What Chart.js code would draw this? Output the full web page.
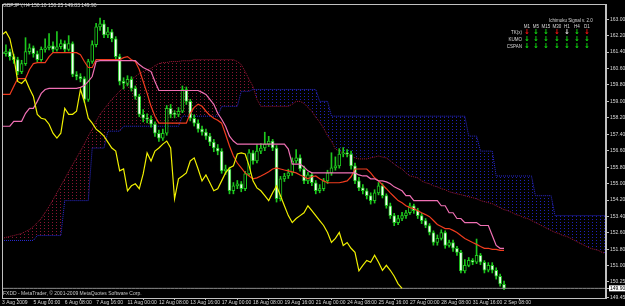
<!DOCTYPE html>
<html><head><meta charset="utf-8">
<script src="https://cdn.jsdelivr.net/npm/chart.js@4.4.1/dist/chart.umd.min.js"></script>
<style>
html,body{margin:0;padding:0;background:#000;}
#wrap{position:relative;width:625px;height:306px;overflow:hidden;background:#000;}
canvas{position:absolute;left:0;top:0;}
.t{position:absolute;font-family:"Liberation Sans",Arial,sans-serif;font-size:5px;line-height:5px;white-space:nowrap;color:#d8d8d8;}
.a{position:absolute;font-family:"DejaVu Sans",sans-serif;font-size:7px;font-weight:bold;line-height:7px;transform:translateX(-50%);}
.h{position:absolute;font-family:"Liberation Sans",Arial,sans-serif;font-size:4.5px;line-height:5px;color:#d8d8d8;transform:translateX(-50%);white-space:nowrap;}
.r{position:absolute;font-family:"Liberation Sans",Arial,sans-serif;font-size:4.5px;line-height:5px;color:#d8d8d8;transform:translateX(-100%);white-space:nowrap;}
</style></head><body>
<div id="wrap"><canvas id="c" width="625" height="306"></canvas>
<div class="t" style="left:3px;top:3px">GBPJPY,H4  150.10 150.25 149.83 149.90</div>
<div class="t" style="left:3px;top:291px;color:#c8c8c8">FXDD - MetaTrader, © 2001-2009 MetaQuotes Software Corp.</div>
<div class="t" style="left:549px;top:18px;font-size:4.5px">Ichimoku Signal v. 2.0</div>
<div id="panel"></div>
</div>
<script>
// ---------- data ----------
const tickLabels = ['3 Aug 2009','5 Aug 00:00','6 Aug 08:00','7 Aug 16:00','11 Aug 00:00','12 Aug 08:00','13 Aug 16:00','17 Aug 00:00','18 Aug 08:00','19 Aug 16:00','21 Aug 00:00','24 Aug 08:00','25 Aug 16:00','27 Aug 00:00','28 Aug 08:00','31 Aug 16:00','2 Sep 08:00'];
const yTickValues = [163.00,162.20,161.40,160.60,159.80,159.00,158.20,157.40,156.60,155.80,155.00,154.20,153.40,152.60,151.80,151.00,150.25,149.90,149.45];
const bidPrice = 149.90;

const openP = [161.40,161.32,161.42,161.18,161.03,160.45,160.84,161.42,161.61,161.32,161.03,161.53,161.61,161.71,161.53,161.66,161.81,161.53,161.81,160.31,160.21,160.11,159.10,160.94,161.76,162.63,162.77,162.24,162.39,162.05,161.18,159.97,159.87,160.07,159.63,159.24,158.37,158.18,158.13,157.89,157.45,157.21,157.45,158.66,158.37,158.37,158.52,159.58,159.00,158.18,157.94,157.65,157.50,157.31,157.02,156.73,156.58,155.62,155.71,154.65,154.89,154.99,154.75,155.47,156.49,156.10,156.58,156.73,156.92,157.07,156.73,154.26,155.23,155.37,155.52,156.10,156.25,155.71,155.13,155.42,155.04,154.65,154.75,155.13,155.52,155.76,155.86,156.44,156.49,156.44,155.86,155.13,154.79,154.65,154.41,154.17,154.55,154.89,154.41,153.92,153.44,153.10,153.30,153.44,153.58,153.92,153.68,153.44,153.20,152.96,152.62,152.13,152.33,152.62,151.99,152.13,151.85,151.65,150.75,151.02,151.26,151.17,151.51,151.17,150.78,151.02,150.78,150.49,150.10];
const highP = [161.60,161.75,161.55,161.30,161.15,161.00,162.10,161.80,161.70,161.45,161.65,162.05,162.30,161.90,162.40,162.00,161.95,162.20,161.90,160.45,160.35,160.20,161.05,161.95,162.80,163.05,162.95,162.60,162.50,162.15,161.30,160.15,160.25,160.20,159.75,159.35,158.60,158.40,158.30,158.00,157.60,157.65,158.80,158.85,158.55,158.70,159.75,159.70,159.10,158.35,158.10,157.80,157.65,157.45,157.15,156.90,156.70,155.90,155.80,155.05,155.15,155.10,155.60,156.65,156.60,156.90,156.95,157.50,157.30,157.15,156.85,155.35,155.50,155.70,156.25,156.65,156.40,155.85,155.55,155.55,155.15,154.95,155.25,155.65,156.50,156.30,156.70,156.75,156.65,156.58,156.00,155.30,154.95,154.75,154.55,154.70,155.05,155.00,154.50,154.05,153.55,153.45,153.60,153.70,154.05,154.00,153.80,153.55,153.30,153.05,152.70,152.50,152.75,152.70,152.25,152.25,151.95,151.75,151.30,151.40,151.35,152.30,151.60,151.25,151.15,151.15,150.90,150.60,150.25];
const lowP = [161.10,161.20,161.00,160.85,160.30,160.35,160.75,161.30,161.15,160.90,160.95,161.40,161.50,161.40,161.45,161.55,161.40,161.45,160.20,160.05,159.95,158.95,159.00,160.85,161.65,162.45,162.10,162.10,161.90,161.05,159.80,159.60,159.75,159.50,159.10,158.25,158.00,157.95,157.75,157.30,157.05,157.10,157.35,158.20,158.20,158.25,158.45,158.85,158.05,157.80,157.50,157.35,157.15,156.85,156.55,156.40,155.50,155.45,154.50,154.50,154.75,154.60,154.65,155.40,155.95,156.00,156.45,156.60,156.80,156.60,154.10,154.15,155.10,155.25,155.40,156.00,155.60,155.00,155.00,154.90,154.50,154.55,154.65,155.00,155.40,155.65,155.75,156.30,156.30,155.70,155.00,154.65,154.50,154.25,154.00,154.05,154.45,154.30,153.80,153.30,152.95,153.00,153.20,153.30,153.50,153.55,153.30,153.05,152.85,152.50,152.00,152.00,152.25,151.85,151.90,151.70,151.50,150.65,150.65,150.95,151.05,151.10,151.05,150.65,150.70,150.65,150.35,150.00,149.83];
const closeP = [161.32,161.42,161.18,161.03,160.45,160.84,161.42,161.61,161.32,161.03,161.53,161.61,161.71,161.53,161.66,161.81,161.53,161.81,160.31,160.21,160.11,159.10,160.94,161.76,162.63,162.77,162.24,162.39,162.05,161.18,159.97,159.87,160.07,159.63,159.24,158.37,158.18,158.13,157.89,157.45,157.21,157.45,158.66,158.37,158.37,158.52,159.58,159.00,158.18,157.94,157.65,157.50,157.31,157.02,156.73,156.58,155.62,155.71,154.65,154.89,154.99,154.75,155.47,156.49,156.10,156.58,156.73,156.92,157.07,156.73,154.26,155.23,155.37,155.52,156.10,156.25,155.71,155.13,155.42,155.04,154.65,154.75,155.13,155.52,155.76,155.86,156.44,156.49,156.44,155.86,155.13,154.79,154.65,154.41,154.17,154.55,154.89,154.41,153.92,153.44,153.10,153.30,153.44,153.58,153.92,153.68,153.44,153.20,152.96,152.62,152.13,152.33,152.62,151.99,152.13,151.85,151.65,150.75,151.02,151.26,151.17,151.51,151.17,150.78,151.02,150.78,150.49,150.12,149.90];

const tenkan = [159.34,159.34,159.34,159.73,160.11,160.11,160.11,160.55,160.84,160.89,160.89,160.89,161.18,161.37,161.37,161.37,161.37,161.37,161.37,161.37,161.27,160.94,160.65,160.65,161.03,161.03,161.03,161.03,161.03,161.03,161.03,161.13,161.18,161.03,160.94,160.55,159.97,159.39,158.76,158.28,157.94,157.94,157.94,157.94,157.94,157.94,157.94,157.94,158.42,158.71,158.86,158.76,158.52,158.32,158.18,158.08,157.94,157.40,156.83,156.34,156.00,155.76,155.52,155.37,155.23,155.28,155.37,155.47,155.57,155.71,155.76,155.71,155.66,155.62,155.57,155.52,155.42,155.33,155.23,155.33,155.37,155.23,155.13,155.04,155.04,155.04,155.04,155.08,155.13,155.33,155.71,155.71,155.71,155.71,155.52,155.28,155.13,154.94,154.75,154.55,154.36,154.17,154.07,153.92,153.83,153.78,153.68,153.58,153.49,153.39,153.20,153.01,152.91,152.81,152.81,152.72,152.62,152.47,152.33,152.23,152.13,152.04,151.94,151.85,151.85,151.80,151.80,151.75,151.75];
const kijun = [157.79,157.79,157.79,158.03,158.03,158.03,158.42,158.66,158.66,159.00,159.39,159.58,159.63,159.63,159.63,159.63,159.63,159.63,159.63,159.63,159.68,159.77,159.97,160.21,160.94,160.98,160.98,160.98,160.98,160.98,160.98,160.98,160.98,160.98,160.98,160.79,160.65,160.55,160.45,159.97,159.53,159.53,159.53,159.53,159.53,159.53,159.53,159.53,159.53,159.53,159.53,159.44,159.34,159.10,158.86,158.42,158.13,157.79,157.31,157.07,156.92,156.92,156.92,156.92,156.92,156.92,156.92,156.92,156.92,156.92,156.92,156.92,156.92,156.68,155.95,155.95,155.95,155.81,155.62,155.52,155.52,155.52,155.52,155.52,155.52,155.52,155.52,155.52,155.52,155.52,155.52,155.42,155.37,155.37,155.23,155.23,155.13,155.13,155.08,154.99,154.84,154.75,154.65,154.41,154.41,154.17,154.17,154.17,154.17,154.17,154.17,154.17,153.92,153.92,153.58,153.58,153.30,153.30,153.10,153.10,153.10,153.10,152.96,152.96,152.96,152.47,151.99,151.85,151.85];
const spanA = [152.33,152.38,152.43,152.47,152.52,152.57,152.67,152.76,152.91,153.10,153.30,153.59,153.88,154.21,154.55,154.89,155.23,155.57,155.91,156.25,156.58,156.92,157.31,157.65,158.03,158.37,158.61,158.86,159.10,159.29,159.49,159.68,159.87,160.07,160.21,160.35,160.45,160.55,160.60,160.74,160.84,160.89,160.89,160.94,160.94,160.94,160.98,160.98,160.98,161.03,161.03,161.03,161.03,161.03,161.03,161.03,161.03,161.03,161.03,161.03,160.94,160.79,160.45,160.07,159.73,159.10,158.76,158.76,158.76,158.76,158.76,158.76,158.76,158.76,158.86,159.00,159.00,158.90,158.71,158.52,158.23,157.99,157.70,157.33,157.07,156.68,156.58,156.49,156.39,156.34,156.25,156.20,156.20,156.20,156.25,156.29,156.34,156.29,156.25,156.10,155.95,155.81,155.71,155.52,155.37,155.33,155.28,155.13,155.04,154.99,154.89,154.84,154.75,154.70,154.60,154.55,154.50,154.46,154.41,154.36,154.31,154.26,154.17,154.12,154.07,154.02,153.92,153.83,153.73,153.68,153.59,153.49,153.44,153.34,153.30,153.20,153.10,153.01,152.91,152.81,152.72,152.62,152.57,152.47,152.43,152.33,152.23,152.13,152.04,151.94,151.85,151.80,151.75,151.65,151.60];
const spanB = [152.23,152.23,152.23,152.23,152.23,152.23,152.23,152.23,152.23,152.47,152.47,152.47,152.47,152.47,152.47,152.47,154.17,154.17,154.17,154.17,154.17,154.17,154.17,156.73,156.73,156.73,156.73,157.55,157.55,157.55,157.55,157.79,157.79,157.79,157.79,157.79,157.79,157.79,157.79,157.79,157.79,157.79,157.79,157.79,157.79,157.79,158.28,158.28,158.28,158.28,158.28,158.28,158.28,158.28,158.28,158.28,158.76,158.76,158.76,158.76,158.76,159.49,159.49,159.49,159.58,159.58,159.58,159.58,159.58,159.58,159.58,159.58,159.58,159.58,159.58,159.58,159.58,159.58,159.58,159.58,159.58,159.00,159.00,159.00,158.28,158.28,158.28,158.28,158.28,158.28,158.28,158.28,158.28,158.28,158.28,158.28,158.28,158.28,158.28,158.28,158.28,158.28,158.28,158.28,158.28,158.28,158.28,158.28,158.28,158.28,158.28,158.28,158.28,158.28,158.28,158.28,158.28,158.28,158.28,157.31,157.31,157.31,156.58,156.58,156.58,156.58,155.37,155.37,155.37,155.37,155.37,155.37,155.37,155.37,155.37,155.37,154.41,154.41,154.41,154.41,154.41,153.44,153.44,153.44,153.44,153.44,153.44,153.44,153.44,153.44,153.44,153.44,153.44,153.44,153.44];
const chikouShift = 26;

// ---------- panel (text) ----------
const panelCols = ['M1','M5','M15','M30','H1','H4','D1'];
const panelColX = [527,536,546,557,567,577,587];
const panelRows = ['TK(x)','KUMO','CSPAN'];
const panelRowY = [32,39,46];
const panelColors = [
  ['#ff1010','#10e010','#10e010','#ff1010','#e0e0e0','#10e010','#ff1010'],
  ['#10e010','#10e010','#10e010','#10e010','#10e010','#10e010','#10e010'],
  ['#10e010','#10e010','#10e010','#10e010','#10e010','#10e010','#10e010']
];
(function(){
  const p = document.getElementById('panel');
  let html = '';
  panelCols.forEach((c,i)=>{ html += `<div class="h" style="left:${panelColX[i]}px;top:24px">${c}</div>`; });
  panelRows.forEach((r,j)=>{
    html += `<div class="r" style="left:522px;top:${panelRowY[j]-2.5}px">${r}</div>`;
    panelColX.forEach((x,i)=>{ html += `<div class="a" style="left:${x}px;top:${panelRowY[j]-3.5}px;color:${panelColors[j][i]}">↓</div>`; });
  });
  p.innerHTML = html;
})();

// ---------- chart ----------
const N = spanA.length;
const labels = spanA.map((_, i) => i);
const pad = arr => arr.concat(new Array(N - arr.length).fill(null));
function dotPattern(color){
  const c = document.createElement('canvas'); c.width = 4; c.height = 3;
  const g = c.getContext('2d'); g.fillStyle = color; g.fillRect(0,0,1,1);
  return g.createPattern(c,'repeat');
}
const ctx0 = document.getElementById('c').getContext('2d');
const redPat = dotPattern('#8a1434');
const bluePat = dotPattern('#2020b8');
const candleGreen = '#1ec81e';

const frame = {
  id:'frame',
  afterDraw(chart){
    const {ctx, chartArea:a} = chart;
    ctx.save(); ctx.strokeStyle = '#c0c0c0'; ctx.lineWidth = 1;
    ctx.strokeRect(a.left + 0.5, a.top + 0.5, a.right - a.left - 1, a.bottom - a.top);
    ctx.restore();
  }
};

new Chart(ctx0, {
  type:'bar',
  data:{
    labels,
    datasets:[
      {type:'line', label:'Senkou Span A', data: spanA, borderColor:'#a01838', borderWidth:1, borderDash:[1,1], pointRadius:0, tension:0,
        fill:{target:1, above: redPat, below: bluePat}, order:10},
      {type:'line', label:'Senkou Span B', data: spanB, borderColor:'#2a2ad0', borderWidth:1, borderDash:[1,1], pointRadius:0, tension:0, fill:false, order:9},
      {type:'bar', label:'Wick', data: pad(highP.map((h,i)=>[lowP[i], h])), backgroundColor: candleGreen, barThickness:1, grouped:false, order:6},
      {type:'bar', label:'Body', data: pad(openP.map((o,i)=>[o, closeP[i]])),
        backgroundColor: c => (c.raw && c.raw[1] > c.raw[0]) ? '#000000' : '#f4fff4',
        borderColor: candleGreen, borderWidth:1, borderSkipped:false, barThickness:3, grouped:false, minBarLength:1, order:5},
      {type:'line', label:'Bid', data: new Array(N).fill(bidPrice), borderColor:'#8c8c8c', borderWidth:1, pointRadius:0, order:4},
      {type:'line', label:'Tenkan-sen', data: pad(tenkan), borderColor:'#f03c1e', borderWidth:1.2, pointRadius:0, tension:0, order:3},
      {type:'line', label:'Kijun-sen', data: pad(kijun), borderColor:'#f070b4', borderWidth:1.2, pointRadius:0, tension:0, order:2},
      {type:'line', label:'Chikou Span', data: pad(closeP.slice(chikouShift)), borderColor:'#f0f000', borderWidth:1.2, pointRadius:0, tension:0, order:1}
    ]
  },
  options:{
    responsive:false, animation:false, devicePixelRatio:1,
    layout:{padding:{left:2, top:2, right:0, bottom:0}},
    plugins:{legend:{display:false}, tooltip:{enabled:false}},
    scales:{
      x:{type:'category', offset:false,
        grid:{display:true, drawOnChartArea:false, drawTicks:true, tickLength:2, color:'#c0c0c0'},
        border:{display:true, color:'#c0c0c0'},
        ticks:{autoSkip:false, maxRotation:0, minRotation:0, align:'start', padding:0, color:'#d8d8d8',
          font:{family:'Liberation Sans', size:5}, callback:(v)=> tickLabels[v/8]},
        afterBuildTicks: s => { s.ticks = s.ticks.filter(t => t.value % 8 === 0 && t.value/8 < tickLabels.length); },
        afterFit: s => { s.height = 8; }
      },
      y:{type:'linear', position:'right', min:149.43, max:163.74,
        grid:{display:true, drawOnChartArea:false, drawTicks:true, tickLength:3, color:'#c0c0c0'},
        border:{display:true, color:'#c0c0c0'},
        ticks:{padding:1, font:{family:'Liberation Sans', size:5},
          color: c => Math.abs(c.tick.value - bidPrice) < 0.001 ? '#000' : '#d8d8d8',
          showLabelBackdrop: c => Math.abs(c.tick.value - bidPrice) < 0.001,
          backdropColor:'#ffffff', backdropPadding:{left:1,right:1,top:0,bottom:0},
          callback: v => Number(v).toFixed(2)},
        afterBuildTicks: s => { s.ticks = yTickValues.map(v => ({value:v})); },
        afterFit: s => { s.width = 19; }
      }
    }
  },
  plugins:[frame]
});
</script>
</body></html>
